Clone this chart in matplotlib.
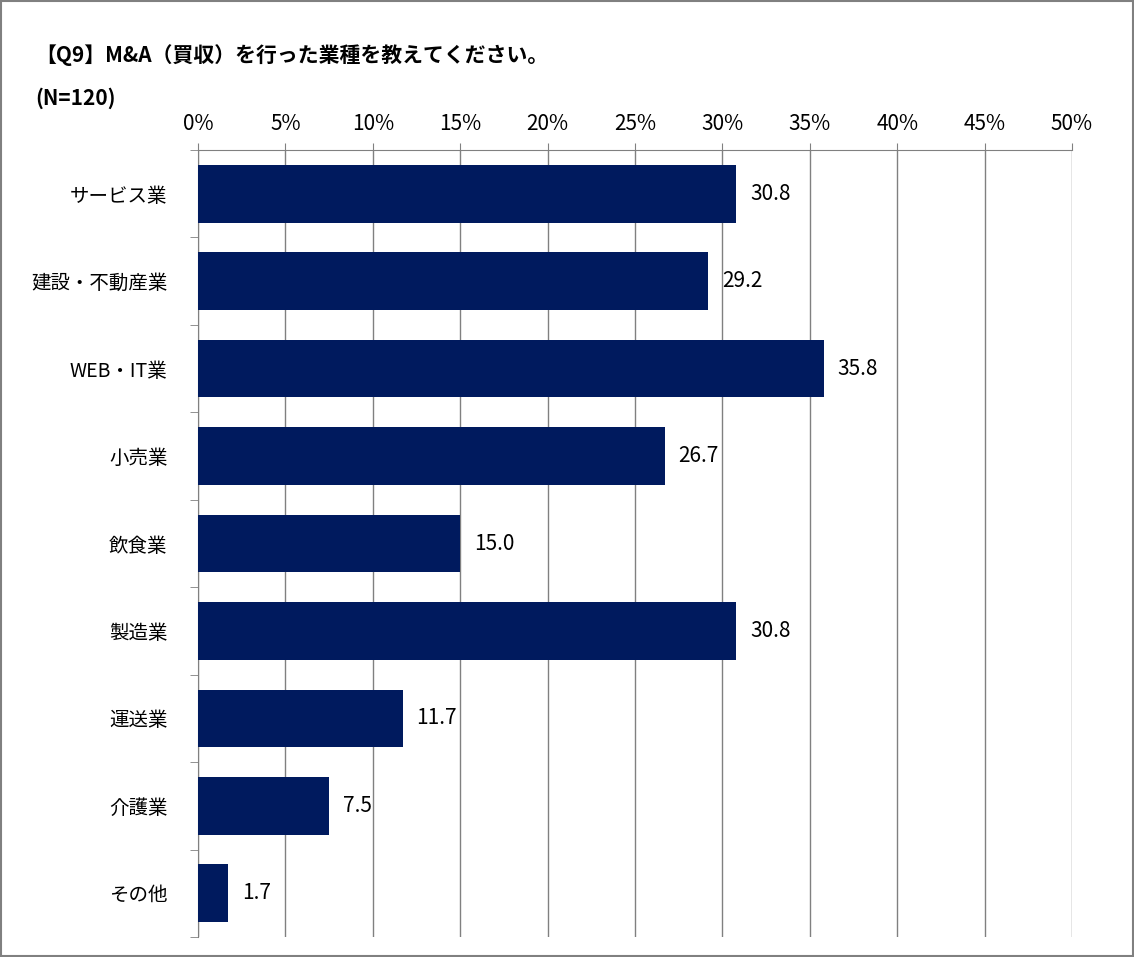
import numpy as np
import matplotlib.pyplot as plt
from matplotlib.patches import Rectangle

plt.rcParams["font.family"] = "Noto Sans CJK JP"

categories = ["サービス業", "建設・不動産業", "WEB・IT業", "小売業", "飲食業", "製造業", "運送業", "介護業", "その他"]
values = [30.8, 29.2, 35.8, 26.7, 15.0, 30.8, 11.7, 7.5, 1.7]
xticks = [0, 5, 10, 15, 20, 25, 30, 35, 40, 45, 50]

fig = plt.figure(figsize=(11.34, 9.57), dpi=100)
ax = fig.add_axes([198 / 1134, 1 - 937 / 957, (1072 - 198) / 1134, (937 - 150) / 957])

y = np.arange(len(categories))
ax.barh(y, values, height=0.66, color="#001A5E", zorder=3)
for yi, v in zip(y, values):
    ax.text(v + 0.8, yi, f"{v:.1f}", va="center", ha="left", fontsize=15, color="black")

ax.set_xlim(0, 50)
ax.set_ylim(len(categories) - 0.5, -0.5)
ax.set_xticks(xticks)
ax.set_xticklabels([f"{t}%" for t in xticks], fontsize=15)
ax.xaxis.tick_top()
ax.tick_params(axis="x", length=5, color="#808080", pad=6)
ax.set_yticks(y)
ax.set_yticklabels(categories, fontsize=14)
ax.set_yticks(np.arange(-0.5, len(categories)), minor=True)
ax.tick_params(axis="y", which="major", length=0, pad=22)
ax.tick_params(axis="y", which="minor", length=6, color="#808080")
ax.grid(axis="x", color="#808080", linewidth=1, zorder=0)
for s in ax.spines.values():
    s.set_color("#808080")
ax.spines["bottom"].set_visible(False)
ax.spines["right"].set_visible(False)
ax.spines["left"].set_color("#808080")

fig.text(35 / 1134, 1 - 55 / 957, "【Q9】M&A（買収）を行った業種を教えてください。", fontsize=15, fontweight="bold", va="center")
fig.text(35 / 1134, 1 - 98 / 957, "(N=120)", fontsize=15, fontweight="bold", va="center")

fig.patches.append(Rectangle((0.001, 0.001), 0.998, 0.998, transform=fig.transFigure,
                             fill=False, edgecolor="#808080", linewidth=1.5))
fig.savefig("out.png", dpi=100)
